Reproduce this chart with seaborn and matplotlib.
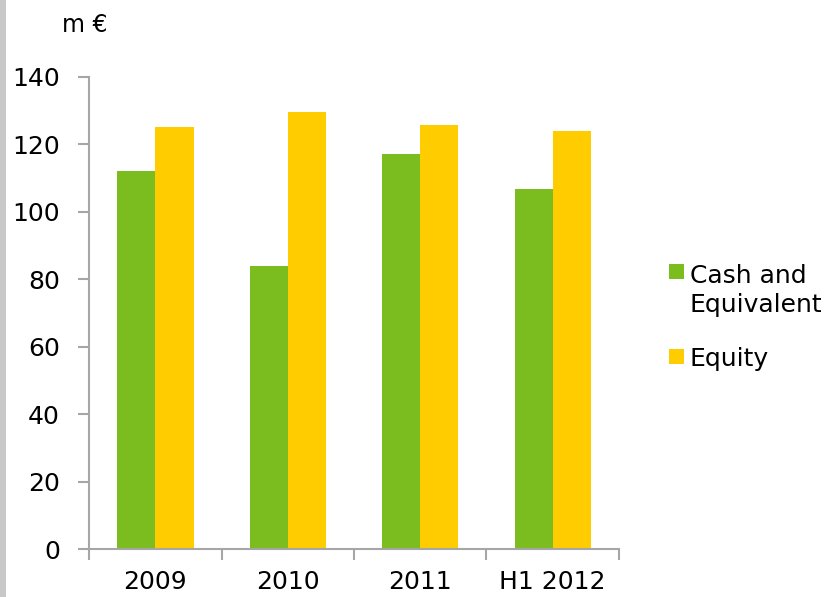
import pandas as pd
import seaborn as sns
import matplotlib.pyplot as plt
from matplotlib.patches import Rectangle

periods = ['2009', '2010', '2011', 'H1 2012']
cash = [112.1, 83.9, 117.2, 106.6]
equity = [125.1, 129.5, 125.7, 123.9]
series = ['Cash and\nEquivalent', 'Equity']
colors = ['#7BBD1E', '#FFCC00']

df = pd.DataFrame({
	'period': periods * 2,
	'value': cash + equity,
	'series': [series[0]] * 4 + [series[1]] * 4,
})

sns.set_style('white')
plt.rcParams['font.family'] = ['DejaVu Sans']
plt.rcParams['text.color'] = 'black'
plt.rcParams['xtick.color'] = 'black'
plt.rcParams['ytick.color'] = 'black'

fig = plt.figure(figsize=(8.34, 5.97), dpi=100)
ax = fig.add_axes([0.107, 0.0799, 0.635, 0.7916])

sns.barplot(data=df, x='period', y='value', hue='series', palette=colors,
			width=0.575, gap=0, saturation=1, linewidth=0, ax=ax, legend=False)

ax.set_ylim(0, 140)
ax.set_xlim(-0.5, 3.5)
ax.set_yticks(range(0, 141, 20))
ax.set_xlabel('')
ax.set_ylabel('')

# category boundary ticks, labels centered between them
ax.set_xticks([-0.5, 0.5, 1.5, 2.5, 3.5])
ax.set_xticklabels([])
ax.set_xticks([0, 1, 2, 3], minor=True)
ax.set_xticklabels(periods, minor=True)

axis_col = '#A6A6A6'
for s in ['top', 'right']:
	ax.spines[s].set_visible(False)
for s in ['left', 'bottom']:
	ax.spines[s].set_color(axis_col)
	ax.spines[s].set_linewidth(1.5)
ax.tick_params(axis='y', which='major', length=8, width=1.5, color=axis_col,
			   labelsize=18, labelcolor='black', pad=13, direction='out', left=True)
ax.tick_params(axis='x', which='major', length=8, width=1.5, color=axis_col,
			   direction='out', bottom=True)
ax.tick_params(axis='x', which='minor', length=0, labelsize=18,
			   labelcolor='black', pad=15)

fig.text(62 / 834, 1 - 25 / 597, 'm €', fontsize=17, va='center', ha='left')

# legend
fig.add_artist(Rectangle((669 / 834, 1 - 279 / 597), 15 / 834, 15 / 597,
						 transform=fig.transFigure, color=colors[0], lw=0))
fig.add_artist(Rectangle((669 / 834, 1 - 364 / 597), 15 / 834, 15 / 597,
						 transform=fig.transFigure, color=colors[1], lw=0))
fig.text(690 / 834, 1 - 283 / 597, 'Cash and', fontsize=18, va='baseline')
fig.text(690 / 834, 1 - 312 / 597, 'Equivalent', fontsize=18, va='baseline')
fig.text(690 / 834, 1 - 366 / 597, 'Equity', fontsize=18, va='baseline')

# grey strip at left edge
fig.add_artist(Rectangle((0, 0), 6 / 834, 1, transform=fig.transFigure,
						 color='#C8C8C8', lw=0))

fig.savefig('out.png', dpi=100)
